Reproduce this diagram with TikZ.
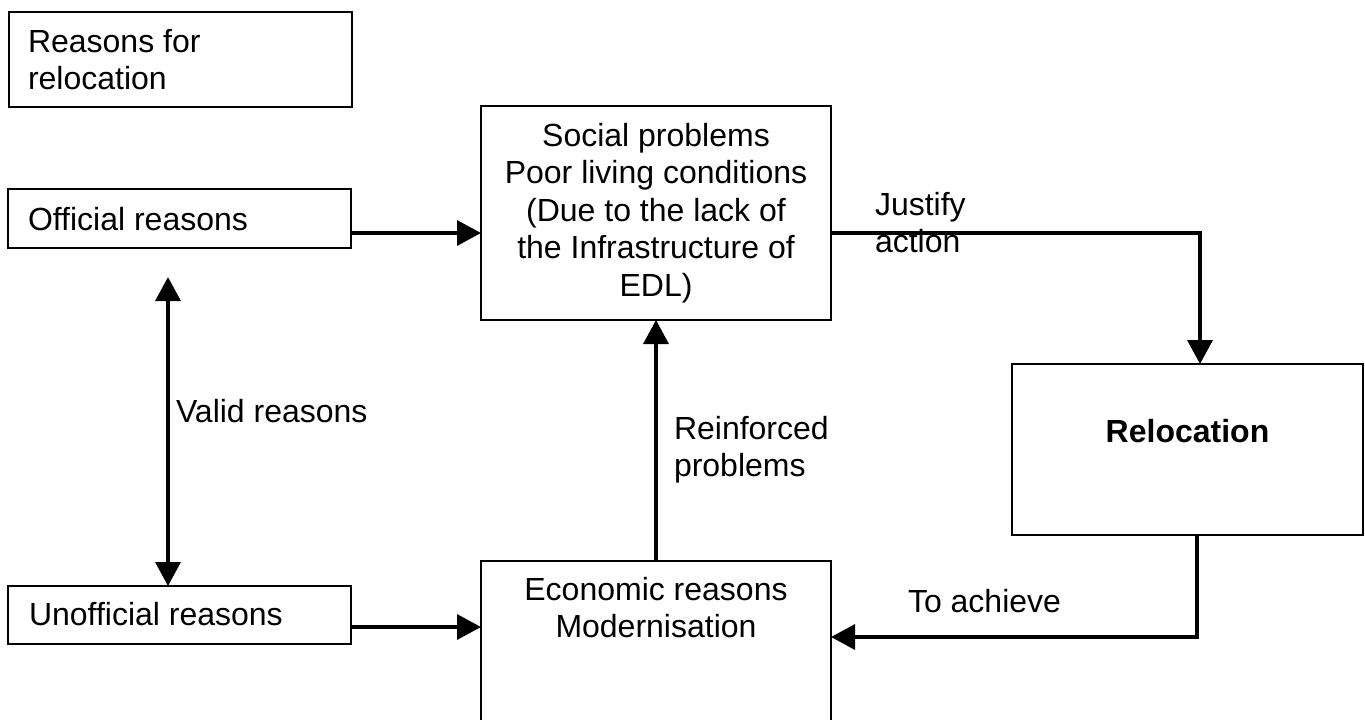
\documentclass[tikz,border=0pt]{standalone}
\usepackage{fontspec}
\setmainfont{Liberation Sans}
\usetikzlibrary{arrows.meta}
\tikzset{
  boxnode/.style={draw, line width=0.6pt, inner sep=0pt, outer sep=0pt, anchor=north west},
  txt/.style={inner sep=0pt, outer sep=0pt, font=\fontsize{16}{18.75}\selectfont},
  conn/.style={line width=1.75pt, -{Triangle[length=12pt,width=12.5pt]}},
  biconn/.style={line width=1.75pt, {Triangle[length=12pt,width=12.5pt]}-{Triangle[length=12pt,width=12.5pt]}}
}
\begin{document}
\begin{tikzpicture}[x=0.5pt,y=-0.5pt]
\useasboundingbox (0,0) rectangle (1365,719);
\begin{scope}
\clip (0,0) rectangle (1365,719);
% boxes
\node[boxnode, minimum width=171.5pt, minimum height=47.5pt] (rbox) at (9,12) {};
\node[boxnode, minimum width=171.5pt, minimum height=29.5pt] (obox) at (8,189) {};
\node[boxnode, minimum width=171.5pt, minimum height=29pt] (ubox) at (8,586) {};
\node[boxnode, minimum width=175pt, minimum height=107pt] (sbox) at (481,106) {};
\node[boxnode, minimum width=175.5pt, minimum height=85.5pt] (rlbox) at (1012,364) {};
\node[boxnode, minimum width=175pt, minimum height=90pt] (ebox) at (481,561) {};
% texts
\node[txt, anchor=north west, align=left] (trbox) at (28,29) {Reasons for\\relocation};
\node[txt, anchor=base west] (tobox) at (28,230) {Official reasons};
\node[txt, anchor=base west] (tubox) at (29,625) {Unofficial reasons};
\node[txt, anchor=north, align=center] (tsbox) at (656,123) {Social problems\\Poor living conditions\\(Due to the lack of\\the Infrastructure of\\EDL)};
\node[txt, anchor=base, font=\fontsize{16}{18.75}\selectfont\bfseries] (trlbox) at (1187.5,442) {Relocation};
\node[txt, anchor=north, align=center] (tebox) at (656,577) {Economic reasons\\Modernisation};
\node[txt, anchor=north west, align=left] (tjust) at (875,192) {Justify\\action};
\node[txt, anchor=base west] (tvalid) at (176,422) {Valid reasons};
\node[txt, anchor=north west, align=left] (treinf) at (674,416) {Reinforced\\problems};
\node[txt, anchor=base west] (tach) at (908,612) {To achieve};
% helper coordinates
\coordinate (j1) at (1200,233);
\coordinate (a1) at (1197,637);
\coordinate (u1) at (351,627);
\coordinate (v1) at (168,277);
% connectors
\draw[conn] (obox.east |- j1) -- (sbox.west |- j1);
\draw[conn] (sbox.east |- j1) -- (j1) -- (j1 |- rlbox.north);
\draw[conn] (a1 |- rlbox.south) -- (a1) -- (ebox.east |- a1);
\draw[conn] (ebox.north) -- (sbox.south);
\draw[conn] (ubox.east |- u1) -- (ebox.west |- u1);
\draw[biconn] (v1) -- (ubox.north -| v1);
\end{scope}
\end{tikzpicture}
\end{document}
